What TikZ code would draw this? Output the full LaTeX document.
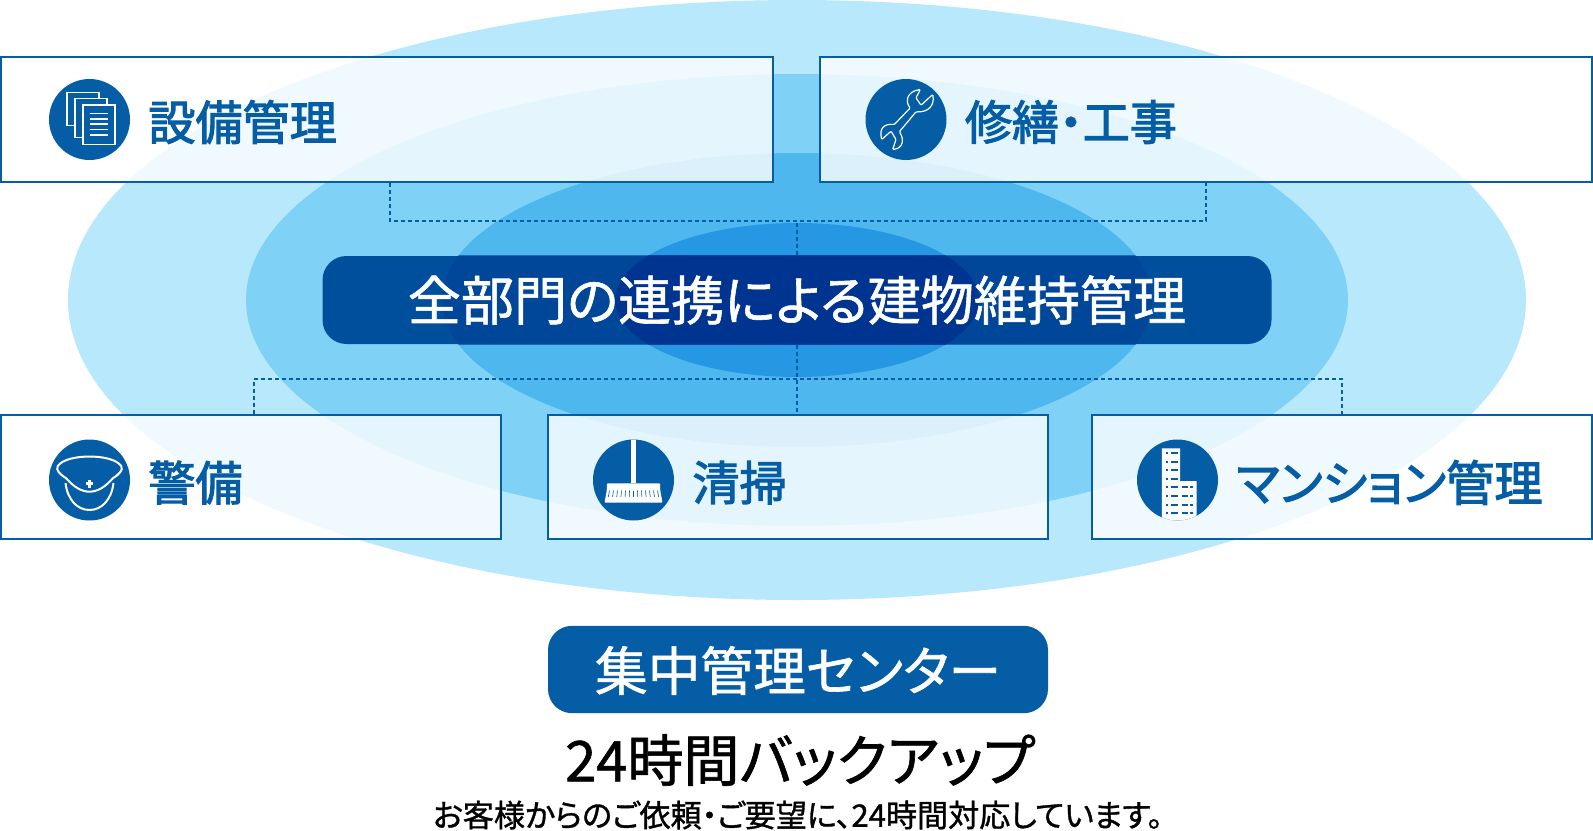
\documentclass[tikz,border=0pt]{standalone}
\usepackage{fontspec}
\usetikzlibrary{positioning}
\newfontfamily\jpmid[RawFeature={+palt},FakeBold=1.1]{Noto Sans CJK JP}
\newfontfamily\jpheavy[RawFeature={+palt},FakeBold=2.4]{Noto Sans CJK JP}
\definecolor{ringA}{HTML}{B8E8FB}
\definecolor{ringB}{HTML}{80D1F6}
\definecolor{ringC}{HTML}{4DB7EE}
\definecolor{ringD}{HTML}{2698E3}
\definecolor{mainblue}{HTML}{055EA5}
\definecolor{barblue}{HTML}{004F9D}
\definecolor{barmid}{HTML}{00479A}
\definecolor{bardark}{HTML}{003491}
\tikzset{
	deptbox/.style={draw=mainblue,line width=0.024cm,fill=white,fill opacity=0.8,minimum width=5cm,minimum height=1.245cm,inner sep=0pt},
	iconbase/.style={circle,fill=mainblue,minimum size=0.81cm,inner sep=0pt},
	iconpx/.style={x=0.01cm,y=-0.01cm},
	deptlabel/.style={text=mainblue,inner sep=0pt,yshift=-0.025cm,font=\jpheavy\fontsize{13.4}{16}\selectfont},
	barlabel/.style={text=white,inner sep=0pt,font=\jpmid\fontsize{15.1}{18}\selectfont},
	joinline/.style={mainblue,line width=0.024cm,dash pattern=on 0.04cm off 0.03cm},
	iconline/.style={white,line width=0.015cm}
}
\begin{document}
\begin{tikzpicture}
	\useasboundingbox (0,0) rectangle (15.93,8.30);

	%% rings
	\fill[ringA] (7.97,5.30) ellipse (7.29 and 3.00);
	\fill[ringB] (7.97,5.30) ellipse (5.51 and 2.26);
	\fill[ringC] (7.97,5.30) ellipse (3.55 and 1.47);
	\fill[ringD] (7.97,5.30) ellipse (1.82 and 0.77);

	%% department boxes
	\node[deptbox,minimum width=7.72cm] (setsubi) at (3.87,7.105) {};
	\node[deptbox,minimum width=7.72cm] (shuzen) at (12.06,7.105) {};
	\node[deptbox] (keibi) at (2.51,3.53) {};
	\node[deptbox] (seisou) at (7.98,3.53) {};
	\node[deptbox] (mansion) at (13.42,3.53) {};

	%% centre bar
	\node[fill=barblue,rounded corners=0.24cm,minimum width=9.49cm,minimum height=0.88cm,inner sep=0pt] (bar) at (7.97,5.30) {};
	\begin{scope}
		\clip[rounded corners=0.24cm] (bar.south west) rectangle (bar.north east);
		\fill[barmid] (7.97,5.30) ellipse (3.55 and 1.47);
		\fill[bardark] (7.97,5.30) ellipse (1.82 and 0.77);
	\end{scope}
	\node[barlabel] (bartext) at (bar) {全部門の連携による建物維持管理};

	%% dotted links
	\coordinate (topleft) at (3.90,6.09);
	\coordinate (topright) at (12.06,6.09);
	\coordinate (lowleft) at (2.54,4.51);
	\coordinate (lowright) at (13.42,4.51);
	\draw[joinline] (topleft |- setsubi.south) -- (topleft) -- (topright) -- (topright |- shuzen.south);
	\draw[joinline] (bar.north) -- (bar.north |- topleft);
	\draw[joinline] (lowleft |- keibi.north) -- (lowleft) -- (lowright) -- (lowright |- mansion.north);
	\draw[joinline] (bar.south) -- (bar.south |- seisou.north);

	%% icons
	\node[iconbase] (iconA) at (0.895,7.105) {};
	\node[iconbase] (iconB) at (9.06,7.105) {};
	\node[iconbase] (iconC) at (0.895,3.50) {};
	\node[iconbase] (iconD) at (6.335,3.50) {};
	\node[iconbase] (iconE) at (11.775,3.50) {};

	\node[deptlabel,right=0.17cm of iconA] (labelA) {設備管理};
	\node[deptlabel,right=0.17cm of iconB] (labelB) {修繕・工事};
	\node[deptlabel,right=0.17cm of iconC] (labelC) {警備};
	\node[deptlabel,right=0.17cm of iconD] (labelD) {清掃};
	\node[deptlabel,right=0.17cm of iconE,font=\jpheavy\fontsize{13.75}{16}\selectfont] (labelE) {マンション管理};

	%% papers
	\begin{scope}[shift={(iconA)},iconpx]
		\draw[iconline,fill=mainblue] (-22.3,-27) rectangle (9.3,6);
		\draw[iconline,fill=mainblue] (-14.3,-21) rectangle (17.3,18);
		\draw[iconline,fill=mainblue] (-6.7,-14.7) rectangle (25.3,25);
		\foreach \y in {-6,-0.7,4.7,10,15.3}
			\draw[iconline] (0,\y) -- (19,\y);
	\end{scope}

	%% wrench
	\begin{scope}[shift={(iconB)},iconpx]
		\draw[white,line width=0.012cm,rounded corners=0.01cm] (4.3,-11.7) .. controls (-0.5,-17) and (0,-28) .. (14.3,-30) -- (10,-21.7) -- (15,-14.3) -- (26.7,-25) .. controls (29,-14) and (22,-7) .. (10,-7.7) -- (-6.7,12.3) .. controls (-1.5,20) and (-3,29) .. (-13.3,30) -- (-10,20) -- (-15,11.7) -- (-24.3,20) .. controls (-27,9) and (-22,4) .. (-11.7,5) -- cycle;
	\end{scope}

	%% cap
	\begin{scope}[shift={(iconC)},iconpx,iconline/.append style={line width=0.02cm}]
		\draw[iconline] (-23.3,-1.7) .. controls (-30,-6) and (-34,-10) .. (-31.7,-14) .. controls (-27,-21) and (-12,-23.5) .. (0,-23.5) .. controls (12,-23.5) and (27,-21) .. (31.7,-14) .. controls (34,-10) and (30,-6) .. (23.3,-1.7) .. controls (15,8) and (7,11.7) .. (0,11.7) .. controls (-7,11.7) and (-15,8) .. cycle;
		\draw[iconline] (-24,3) .. controls (-22,20) and (-12,30) .. (0,30) .. controls (12,30) and (22,20) .. (24,3);
		\draw[iconline,line width=0.025cm] (-4,3.5) -- (4,3.5);
		\draw[iconline,line width=0.025cm] (0,-0.5) -- (0,7.5);
	\end{scope}

	%% broom
	\begin{scope}[shift={(iconD)},iconpx]
		\fill[white] (-3,-40.5) rectangle (2.7,3.3);
		\fill[white,rounded corners=0.01cm] (-26.7,3.3) -- (26.7,3.3) -- (26.7,10) -- (29,22.7) -- (-29,22.7) -- (-26.7,10) -- cycle;
		\foreach \x in {-24,-20,...,24}
			\draw[mainblue,line width=0.006cm] (\x,10.5) -- (\x*1.05,17);
	\end{scope}

	%% building
	\begin{scope}[shift={(iconE)},iconpx]
		\clip (0,0) circle (40.5);
		\fill[white] (-15.7,-31.7) -- (2.7,-31.7) -- (2.7,1) -- (19,1) -- (19,41) -- (-15.7,41) -- cycle;
		\foreach \y in {-26.7,-18,-9.7,-1.3,7.3,16,24.7,33} {
			\fill[mainblue] (-11.7,\y-1) rectangle (-9.3,\y+1);
			\fill[mainblue] (-6.7,\y-1) rectangle (0,\y+1);
		}
		\foreach \y in {7.3,16,24.7,33} {
			\fill[mainblue] (4,\y-1) rectangle (10.3,\y+1);
			\fill[mainblue] (12.7,\y-1) rectangle (15,\y+1);
		}
	\end{scope}

	%% centre block
	\node[fill=mainblue,rounded corners=0.24cm,minimum width=5cm,minimum height=0.873cm,inner sep=0pt] (center) at (7.98,1.605) {};
	\node[barlabel,yshift=-0.01cm,font=\jpmid\fontsize{15}{18}\selectfont] (centertext) at (center) {集中管理センター};
	\node[inner sep=0pt,text=black,font=\jpmid\fontsize{15.95}{18}\selectfont] (backup) at (8.00,0.70) {24時間バックアップ};
	\node[inner sep=0pt,text=black,font=\jpmid\fontsize{8.85}{10}\selectfont] (note) at (7.98,0.15) {お客様からのご依頼・ご要望に、24時間対応しています。};
\end{tikzpicture}
\end{document}
